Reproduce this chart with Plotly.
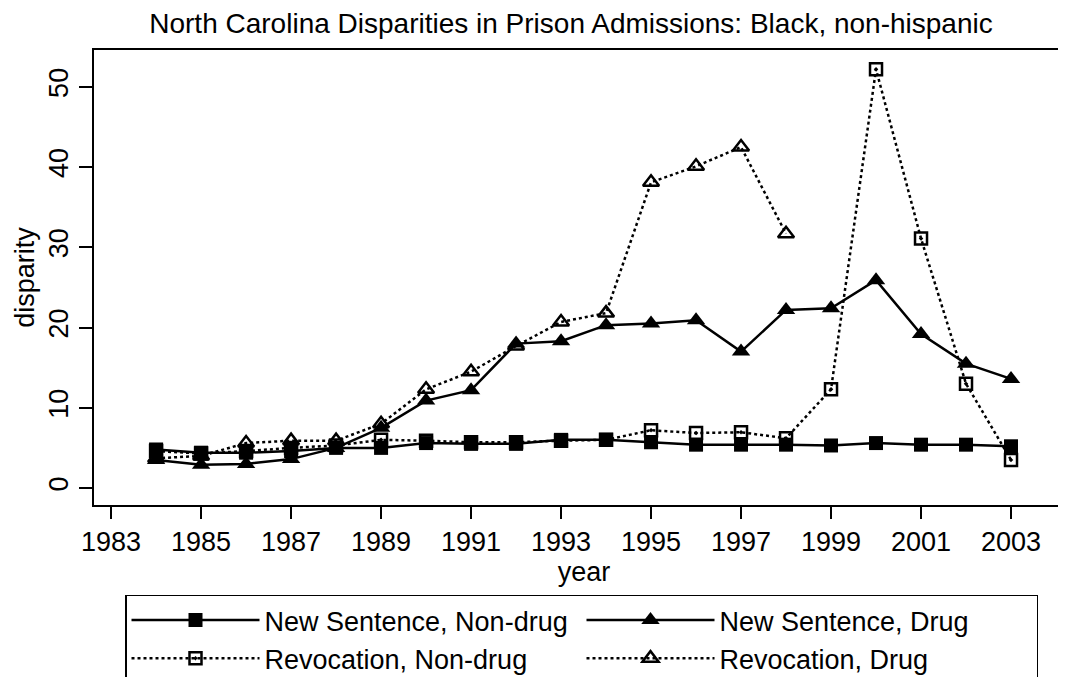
import plotly.graph_objects as go

years = list(range(1984, 2004))

new_nondrug = [4.8, 4.4, 4.4, 4.6, 5.0, 5.0, 5.6, 5.5, 5.5, 6.0,
               6.0, 5.7, 5.4, 5.4, 5.4, 5.3, 5.6, 5.4, 5.4, 5.2]
new_drug = [3.5, 2.9, 3.0, 3.6, 5.0, 7.5, 10.9, 12.2, 18.0, 18.3,
            20.3, 20.5, 20.9, 17.0, 22.2, 22.4, 25.9, 19.2, 15.5, 13.6]
rev_nondrug = [4.6, 4.3, 4.6, 5.0, 5.3, 6.0, 5.9, 5.7, 5.7, 5.9,
               6.0, 7.2, 6.85, 6.95, 6.2, 12.3, 52.2, 31.1, 13.0, 3.5]
rev_drug = [3.7, 4.0, 5.6, 5.9, 5.9, 8.0, 12.3, 14.5, 17.7, 20.7,
            21.8, 38.1, 40.1, 42.5, 31.7, None, None, None, None, None]

names = ["New Sentence, Non-drug", "New Sentence, Drug",
         "Revocation, Non-drug", "Revocation, Drug"]

x_ticks = list(range(1983, 2004, 2))
y_ticks = [0, 10, 20, 30, 40, 50]

FONT = "Liberation Sans, Arial, sans-serif"

fig = go.Figure()
fig.add_trace(go.Scatter(
    x=years, y=rev_nondrug, name=names[2], mode="lines+markers",
    line=dict(color="black", width=2.5, dash="dot"),
    marker=dict(symbol="square-open-dot", size=12, color="black",
                line=dict(width=2.5, color="black")),
    legendrank=3))
fig.add_trace(go.Scatter(
    x=years, y=rev_drug, name=names[3], mode="lines+markers",
    line=dict(color="black", width=2.5, dash="dot"),
    marker=dict(symbol="triangle-up-open", size=14, color="black",
                line=dict(width=2.5, color="black")),
    legendrank=4))
fig.add_trace(go.Scatter(
    x=years, y=new_nondrug, name=names[0], mode="lines+markers",
    line=dict(color="black", width=2.5),
    marker=dict(symbol="square", size=14, color="black"),
    legendrank=1))
fig.add_trace(go.Scatter(
    x=years, y=new_drug, name=names[1], mode="lines+markers",
    line=dict(color="black", width=2.5),
    marker=dict(symbol="triangle-up", size=16, color="black"),
    legendrank=2))

fig.update_layout(
    width=1066, height=677,
    margin=dict(l=86, r=0, t=42, b=180, autoexpand=False),
    paper_bgcolor="white", plot_bgcolor="white",
    font=dict(family=FONT, color="black", size=27),
    title=dict(text="North Carolina Disparities in Prison Admissions: Black, non-hispanic",
               x=563 / 1066, xanchor="center", xref="container",
               y=1 - 15 / 677, yanchor="middle", yref="container",
               font=dict(size=28, family=FONT, color="black")),
    xaxis=dict(range=[1982.62, 2004.4], tickvals=x_ticks, automargin=False,
               ticks="outside", ticklen=12, tickwidth=1.5, tickcolor="black",
               showline=True, linecolor="black", linewidth=1.5, mirror=True,
               showgrid=False, zeroline=False,
               tickfont=dict(size=27, family=FONT),
               title=dict(text="year", font=dict(size=27, family=FONT), standoff=2)),
    yaxis=dict(range=[-2.12, 54.6], tickvals=y_ticks, automargin=False,
               ticks="outside", ticklen=13, tickwidth=1.5, tickcolor="black",
               showline=True, linecolor="black", linewidth=1.5, mirror=False,
               showgrid=False, zeroline=False, tickangle=-90,
               tickfont=dict(size=27, family=FONT),
               title=dict(text="disparity", font=dict(size=27, family=FONT), standoff=2)),
    legend=dict(orientation="h", x=(117 - 86) / 980, y=(497 - 586.5) / 455,
                xanchor="left", yanchor="top",
                bordercolor="black", borderwidth=1.5, bgcolor="white",
                itemwidth=128, entrywidth=312, entrywidthmode="pixels",
                font=dict(size=27, family=FONT), traceorder="normal"),
)

fig.write_html("out.html")
